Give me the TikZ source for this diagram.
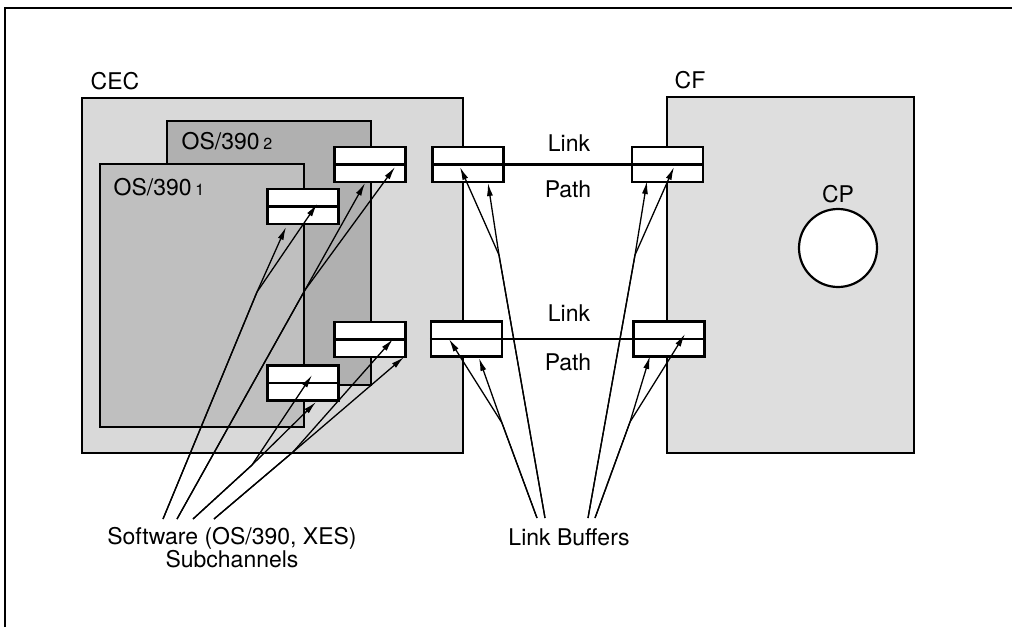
\documentclass[tikz,border=0pt]{standalone}
\usepackage{fontspec}
\setmainfont{TeX Gyre Heros}
\usetikzlibrary{arrows.meta}
\definecolor{cecfill}{gray}{0.85}
\definecolor{osafill}{gray}{0.75}
\definecolor{osbfill}{gray}{0.69}
\definecolor{cffill}{gray}{0.87}
\begin{document}
\begin{tikzpicture}[x=1pt,y=-1pt,
  box/.style={draw, line width=2.4pt},
  buf/.style={draw, fill=white, line width=2.4pt, minimum width=71pt, minimum height=35pt, inner sep=0pt},
  lbl/.style={font=\fontsize{23}{23}\selectfont, inner sep=0pt},
  ptr/.style={line width=1.3pt, -{Latex[length=13pt,width=6pt]}},
  midl/.style={line width=2.2pt}]
\useasboundingbox (0,0) rectangle (1012,627);
\draw[line width=2pt] (5,627) -- (5,8) -- (1012,8);

% big boxes
\path[box, fill=cecfill] (82,98) rectangle (463,453);
\path[box, fill=osbfill] (167,121) rectangle (371,385);
\path[box, fill=osafill] (100,164) rectangle (304,427);
\path[box, fill=cffill] (667,97) rectangle (914,453);
\draw[line width=2.2pt, fill=white] (838,248) circle (39);

% labels
\node[lbl] (cec) at (115,81) {CEC};
\node[lbl] (cf) at (690,80) {CF};
\node[lbl] (cp) at (838,194) {CP};
\node[lbl] (os2) at (227,141) {OS/390\,{\fontsize{16}{16}\selectfont 2}};
\node[lbl] (os1) at (159,187) {OS/390\,{\fontsize{16}{16}\selectfont 1}};
\node[lbl] (lk1) at (569,143) {Link};
\node[lbl] (pa1) at (568,189) {Path};
\node[lbl] (lk2) at (569,313) {Link};
\node[lbl] (pa2) at (568,362) {Path};
\node[lbl, align=center] (sw) at (232,548) {Software (OS/390, XES)\\[0pt]Subchannels};
\node[lbl] (lb) at (569,537) {Link Buffers};

% buffers
\node[buf] (bA) at (370,164.5) {};
\node[buf] (bB) at (303,206.5) {};
\node[buf] (bC) at (370,339.5) {};
\node[buf] (bD) at (303,383) {};
\node[buf] (bTL) at (468,164.5) {};
\node[buf] (bTR) at (667.5,164.5) {};
\node[buf] (bBL) at (466.5,339) {};
\node[buf] (bBR) at (669,339) {};
\foreach \b in {bA,bB,bC,bD,bTL,bTR,bBL,bBR} \draw[midl] (\b.west) -- (\b.east);
\draw[midl] (bTL.east) -- (bTR.west);
\draw[midl] (bBL.east) -- (bBR.west);

% arrow targets
\coordinate (tBb) at (286,227);
\coordinate (tBm) at (317,204);
\coordinate (tAb) at (365,183);
\coordinate (tAm) at (395,167);
\coordinate (tCm) at (393,339);
\coordinate (tCb) at (404,357);
\coordinate (tDm) at (312,375);
\coordinate (tDb) at (316,402);
\coordinate (tTLm) at (460,167);
\coordinate (tTLb) at (488,183);
\coordinate (tTRb) at (647,181);
\coordinate (tTRm) at (674,167);
\coordinate (tBLm) at (449,339);
\coordinate (tBLb) at (479,358);
\coordinate (tBRb) at (650,356);
\coordinate (tBRm) at (685,334);

% origins and split points
\coordinate (s1) at (163,519); \coordinate (k1) at (257,292);
\coordinate (s2) at (177,519); \coordinate (k2) at (305,290);
\coordinate (s3) at (193,519); \coordinate (k3) at (252,465);
\coordinate (s4) at (214,519); \coordinate (k4) at (293,452);
\coordinate (s5) at (537,518); \coordinate (k5) at (502,423);
\coordinate (s6) at (545,518); \coordinate (k6) at (499,255);
\coordinate (s7) at (588,518); \coordinate (k7) at (635,255);
\coordinate (s8) at (595,518); \coordinate (k8) at (630,422);

\draw[ptr] (s1) -- (k1) -- (tBb);
\draw[ptr] (s1) -- (k1) -- (tBm);
\draw[ptr] (s2) -- (k2) -- (tAb);
\draw[ptr] (s2) -- (k2) -- (tAm);
\draw[ptr] (s3) -- (k3) -- (tDm);
\draw[ptr] (s3) -- (k3) -- (tDb);
\draw[ptr] (s4) -- (k4) -- (tCm);
\draw[ptr] (s4) -- (k4) -- (tCb);
\draw[ptr] (s5) -- (k5) -- (tBLm);
\draw[ptr] (s5) -- (k5) -- (tBLb);
\draw[ptr] (s6) -- (k6) -- (tTLm);
\draw[ptr] (s6) -- (k6) -- (tTLb);
\draw[ptr] (s7) -- (k7) -- (tTRb);
\draw[ptr] (s7) -- (k7) -- (tTRm);
\draw[ptr] (s8) -- (k8) -- (tBRb);
\draw[ptr] (s8) -- (k8) -- (tBRm);
\end{tikzpicture}
\end{document}
